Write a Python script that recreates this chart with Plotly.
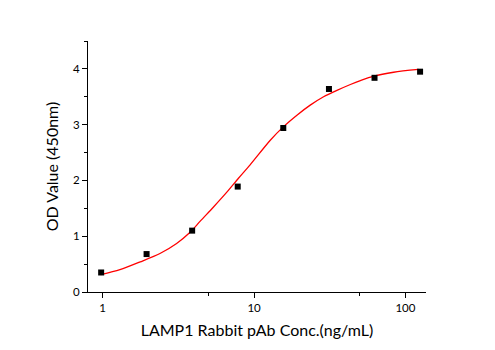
import plotly.graph_objects as go

# Measured data points
conc = [0.977, 1.95, 3.9, 7.8, 15.6, 31.25, 62.5, 125]
od = [0.35, 0.68, 1.10, 1.89, 2.94, 3.64, 3.84, 3.95]

# Fitted curve
curve_x = [0.97, 1.30, 1.77, 2.39, 3.08, 3.78, 4.41, 5.38, 6.61, 7.89, 9.42,
           12.8, 15.6, 19.2, 23.5, 28.8, 35.3, 43.3, 50.4, 61.7, 83.6, 122]
curve_y = [0.31, 0.40, 0.54, 0.69, 0.87, 1.07, 1.27, 1.52, 1.79, 2.04, 2.28,
           2.72, 2.96, 3.17, 3.35, 3.50, 3.615, 3.72, 3.79, 3.87, 3.94, 3.99]

x_ticks = [1, 10, 100]
x_tick_labels = ["1", "10", "100"]
x_minor_ticks = [5, 50]
y_ticks = [0, 1, 2, 3, 4]

font_family = "Lato, 'Open Sans', sans-serif"

fig = go.Figure()
fig.add_trace(go.Scatter(
    x=curve_x, y=curve_y, mode="lines",
    line=dict(color="#ff0000", width=1.3, shape="spline", smoothing=0.8),
    hoverinfo="skip", showlegend=False,
))
fig.add_trace(go.Scatter(
    x=conc, y=od, mode="markers",
    marker=dict(symbol="square", size=6, color="black"),
    showlegend=False,
))

fig.update_layout(
    width=495, height=350,
    margin=dict(l=88, r=69, t=41, b=58),
    paper_bgcolor="white", plot_bgcolor="white",
    font=dict(family=font_family, color="black"),
)
fig.update_xaxes(
    type="log", range=[-0.097, 2.136],
    tickvals=x_ticks, ticktext=x_tick_labels,
    ticks="outside", ticklen=5, tickwidth=1, tickcolor="black",
    minor=dict(tickvals=x_minor_ticks, ticks="outside", ticklen=3, tickwidth=1, tickcolor="black"),
    showline=True, linecolor="black", linewidth=1,
    showgrid=False, zeroline=False,
    tickfont=dict(size=11.5),
    title=dict(text="LAMP1 Rabbit pAb Conc.(ng/mL)", font=dict(size=16), standoff=12),
)
fig.update_yaxes(
    range=[0, 4.5],
    tickvals=y_ticks,
    ticks="outside", ticklen=5, tickwidth=1, tickcolor="black",
    minor=dict(dtick=0.5, ticks="outside", ticklen=3, tickwidth=1, tickcolor="black"),
    showline=True, linecolor="black", linewidth=1,
    showgrid=False, zeroline=False,
    tickfont=dict(size=11.5),
    title=dict(text="OD Value (450nm)", font=dict(size=16), standoff=10),
)

fig.write_html("out.html")
